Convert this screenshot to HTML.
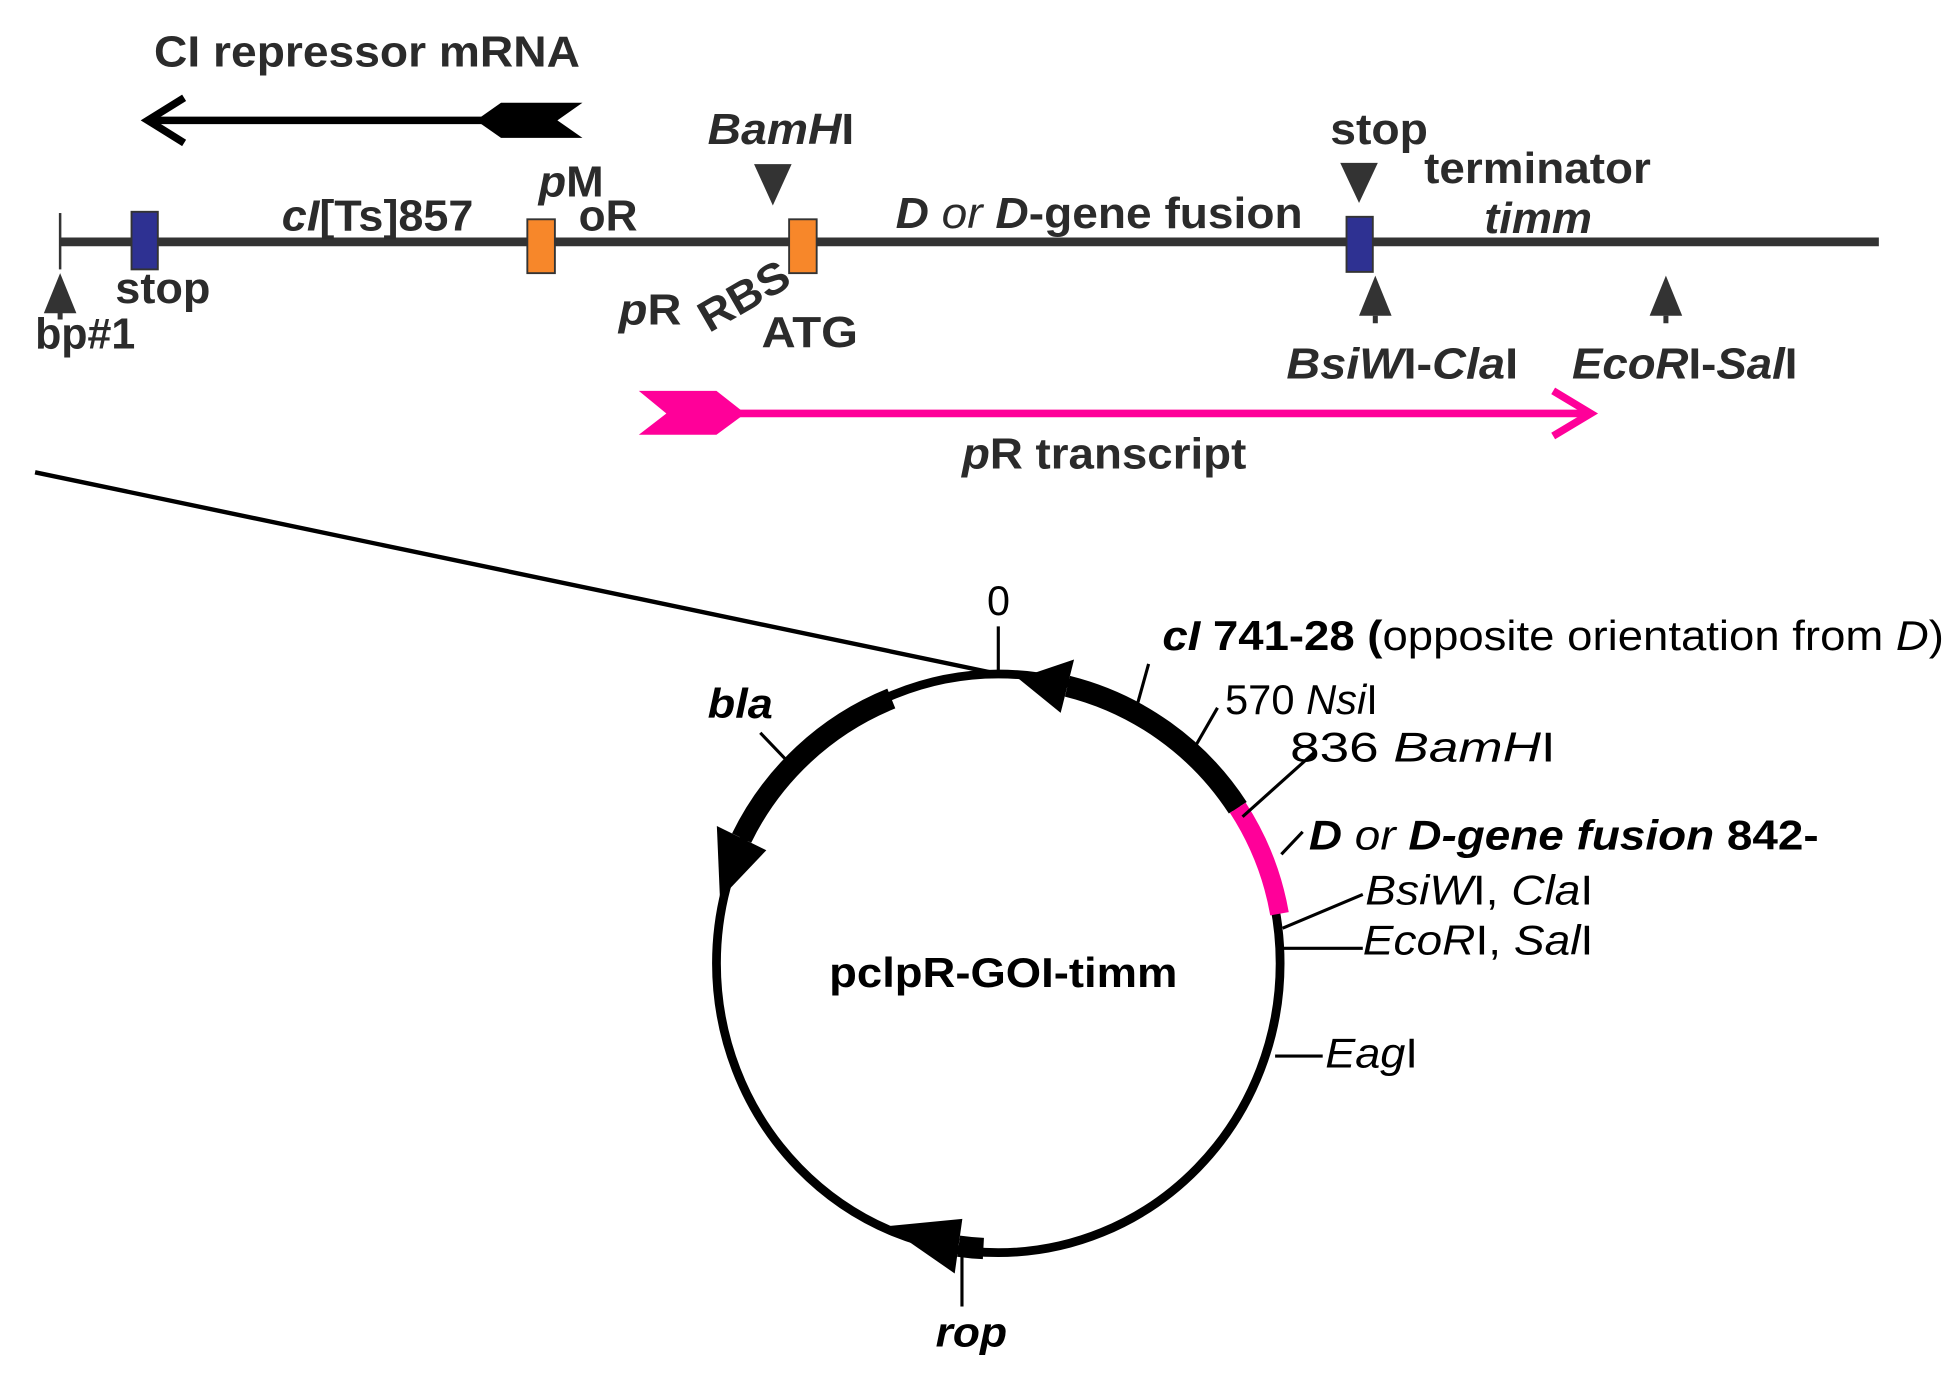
<!DOCTYPE html>
<html><head><meta charset="utf-8"><style>
html,body{margin:0;padding:0;background:#fff;}
svg{display:block;}
text{font-family:"Liberation Sans",sans-serif;}
.d{fill:#2b2b2b;font-weight:bold;font-size:35px;}
.k{fill:#000;font-size:33px;}
</style></head><body>
<svg width="1954" height="1373" viewBox="0 0 1560 1096" xmlns="http://www.w3.org/2000/svg">
<text class="d" x="123" y="53" textLength="340" lengthAdjust="spacingAndGlyphs">CI repressor mRNA</text>
<line x1="120" y1="96" x2="400" y2="96" stroke="#000" stroke-width="6"/>
<polyline points="147,78 118,96 147,114" fill="none" stroke="#000" stroke-width="6"/>
<polygon points="380,96 400,82 465,82 445,96 465,110 400,110" fill="#000"/>
<line x1="48" y1="193" x2="1500" y2="193" stroke="#333" stroke-width="7"/>
<line x1="48" y1="170" x2="48" y2="215" stroke="#333" stroke-width="2"/>
<polygon points="48,218 35,250 61,250" fill="#333"/>
<line x1="48" y1="249" x2="48" y2="255" stroke="#333" stroke-width="4"/>
<text class="d" x="28" y="278" textLength="80" lengthAdjust="spacingAndGlyphs">bp#1</text>
<rect x="105" y="169" width="21" height="46" fill="#2e3192" stroke="#333" stroke-width="1.5"/>
<text class="d" x="92" y="242" textLength="76" lengthAdjust="spacingAndGlyphs">stop</text>
<text class="d" x="225" y="184" textLength="153" lengthAdjust="spacingAndGlyphs"><tspan font-style="italic">cI</tspan>[Ts]857</text>
<rect x="421" y="175" width="22" height="43" fill="#f7872a" stroke="#333" stroke-width="1.5"/>
<text class="d" x="430" y="157" textLength="52" lengthAdjust="spacingAndGlyphs"><tspan font-style="italic">p</tspan>M</text>
<text class="d" x="462" y="184" textLength="47" lengthAdjust="spacingAndGlyphs">oR</text>
<text class="d" x="565" y="115" textLength="117" lengthAdjust="spacingAndGlyphs"><tspan font-style="italic">BamH</tspan>I</text>
<polygon points="602,131 632,131 617,164" fill="#333"/>
<rect x="630" y="175" width="22" height="43" fill="#f7872a" stroke="#333" stroke-width="1.5"/>
<text class="d" x="494" y="259" textLength="50" lengthAdjust="spacingAndGlyphs"><tspan font-style="italic">p</tspan>R</text>
<text class="d" x="0" y="0" transform="translate(566,266) rotate(-30)" textLength="78" lengthAdjust="spacingAndGlyphs">RBS</text>
<text class="d" x="608" y="277" textLength="77" lengthAdjust="spacingAndGlyphs">ATG</text>
<text class="d" x="715" y="182" textLength="325" lengthAdjust="spacingAndGlyphs"><tspan font-style="italic">D</tspan><tspan font-weight="normal" font-style="italic"> or </tspan><tspan font-style="italic">D</tspan>-gene fusion</text>
<rect x="1075" y="173" width="21" height="44" fill="#2e3192" stroke="#333" stroke-width="1.5"/>
<text class="d" x="1062" y="115" textLength="78" lengthAdjust="spacingAndGlyphs">stop</text>
<polygon points="1070,130 1100,130 1085,162" fill="#333"/>
<text class="d" x="1137" y="146" textLength="181" lengthAdjust="spacingAndGlyphs">terminator</text>
<text class="d" x="1185" y="186" font-style="italic" textLength="86" lengthAdjust="spacingAndGlyphs">timm</text>
<polygon points="1098,220 1085,252 1111,252" fill="#333"/>
<line x1="1098" y1="252" x2="1098" y2="258" stroke="#333" stroke-width="4"/>
<text class="d" x="1027" y="302" textLength="185" lengthAdjust="spacingAndGlyphs"><tspan font-style="italic">BsiW</tspan>I-<tspan font-style="italic">Cla</tspan>I</text>
<polygon points="1330,220 1317,252 1343,252" fill="#333"/>
<line x1="1330" y1="252" x2="1330" y2="258" stroke="#333" stroke-width="4"/>
<text class="d" x="1255" y="302" textLength="180" lengthAdjust="spacingAndGlyphs"><tspan font-style="italic">EcoR</tspan>I-<tspan font-style="italic">Sal</tspan>I</text>
<line x1="585" y1="330" x2="1270" y2="330" stroke="#ff0099" stroke-width="6"/>
<polyline points="1240,312 1270,330 1240,348" fill="none" stroke="#ff0099" stroke-width="6"/>
<polygon points="510,312 572,312 595,330 572,347 510,347 532,330" fill="#ff0099"/>
<text class="d" x="768" y="374" textLength="227" lengthAdjust="spacingAndGlyphs"><tspan font-style="italic">p</tspan>R transcript</text>
<line x1="28" y1="377" x2="797" y2="538" stroke="#000" stroke-width="3.5"/>
<ellipse cx="797" cy="769" rx="225" ry="231" fill="none" stroke="#000" stroke-width="7"/>
<line x1="797" y1="500" x2="797" y2="538" stroke="#000" stroke-width="2.5"/>
<text class="k" x="788" y="491">0</text>
<path d="M852.2,547.8 A228,228 0 0 1 988.2,644.8" fill="none" stroke="#000" stroke-width="17"/>
<polygon points="846.8,569.1 857.5,526.4 812.9,541.5" fill="#000"/>
<path d="M988.2,644.8 A228,228 0 0 1 1021.5,729.4" fill="none" stroke="#ff0099" stroke-width="15"/>
<path d="M592.1,669.0 A228,228 0 0 1 711.6,557.6" fill="none" stroke="#000" stroke-width="17"/>
<polygon points="611.8,678.7 572.3,659.4 574.8,717.7" fill="#000"/>
<path d="M785.1,996.7 A228,228 0 0 1 765.3,994.8" fill="none" stroke="#000" stroke-width="17"/>
<polygon points="768.3,973.0 762.2,1016.6 707.9,978.9" fill="#000"/>
<line x1="768" y1="1000" x2="768" y2="1043" stroke="#000" stroke-width="2.5"/>
<text class="k" x="747" y="1075" font-weight="bold" font-style="italic" textLength="57" lengthAdjust="spacingAndGlyphs">rop</text>
<text class="k" x="565" y="573" font-weight="bold" font-style="italic" textLength="52" lengthAdjust="spacingAndGlyphs">bla</text>
<line x1="607" y1="585" x2="630" y2="609" stroke="#000" stroke-width="2.5"/>
<text class="k" x="928" y="519" textLength="624" lengthAdjust="spacingAndGlyphs"><tspan font-weight="bold" font-style="italic">cI</tspan><tspan font-weight="bold"> 741-28 (</tspan>opposite orientation from <tspan font-style="italic">D</tspan>)</text>
<line x1="917" y1="530" x2="907" y2="566" stroke="#000" stroke-width="2.5"/>
<text class="k" x="978" y="570" textLength="122" lengthAdjust="spacingAndGlyphs">570 <tspan font-style="italic">Nsi</tspan>I</text>
<line x1="972" y1="565" x2="953" y2="598" stroke="#000" stroke-width="2.5"/>
<text class="k" x="1030" y="608" textLength="212" lengthAdjust="spacingAndGlyphs">836 <tspan font-style="italic">BamH</tspan>I</text>
<line x1="1050" y1="600" x2="992" y2="652" stroke="#000" stroke-width="2.5"/>
<text class="k" x="1045" y="678" textLength="407" lengthAdjust="spacingAndGlyphs" font-weight="bold"><tspan font-style="italic">D</tspan><tspan font-weight="normal" font-style="italic"> or </tspan><tspan font-style="italic">D-gene fusion</tspan> 842-</text>
<line x1="1040" y1="664" x2="1023" y2="682" stroke="#000" stroke-width="2.5"/>
<text class="k" x="1090" y="722" textLength="182" lengthAdjust="spacingAndGlyphs"><tspan font-style="italic">BsiW</tspan>I, <tspan font-style="italic">Cla</tspan>I</text>
<line x1="1088" y1="714" x2="1024" y2="741" stroke="#000" stroke-width="2.5"/>
<text class="k" x="1088" y="762" textLength="184" lengthAdjust="spacingAndGlyphs"><tspan font-style="italic">EcoR</tspan>I, <tspan font-style="italic">Sal</tspan>I</text>
<line x1="1024" y1="757" x2="1088" y2="757" stroke="#000" stroke-width="2.5"/>
<text class="k" x="1058" y="852" textLength="74" lengthAdjust="spacingAndGlyphs"><tspan font-style="italic">Eag</tspan>I</text>
<line x1="1018" y1="843" x2="1056" y2="843" stroke="#000" stroke-width="2.5"/>
<text class="k" x="662" y="788" font-weight="bold" textLength="278" lengthAdjust="spacingAndGlyphs">pclpR-GOI-timm</text>
</svg>
</body></html>
